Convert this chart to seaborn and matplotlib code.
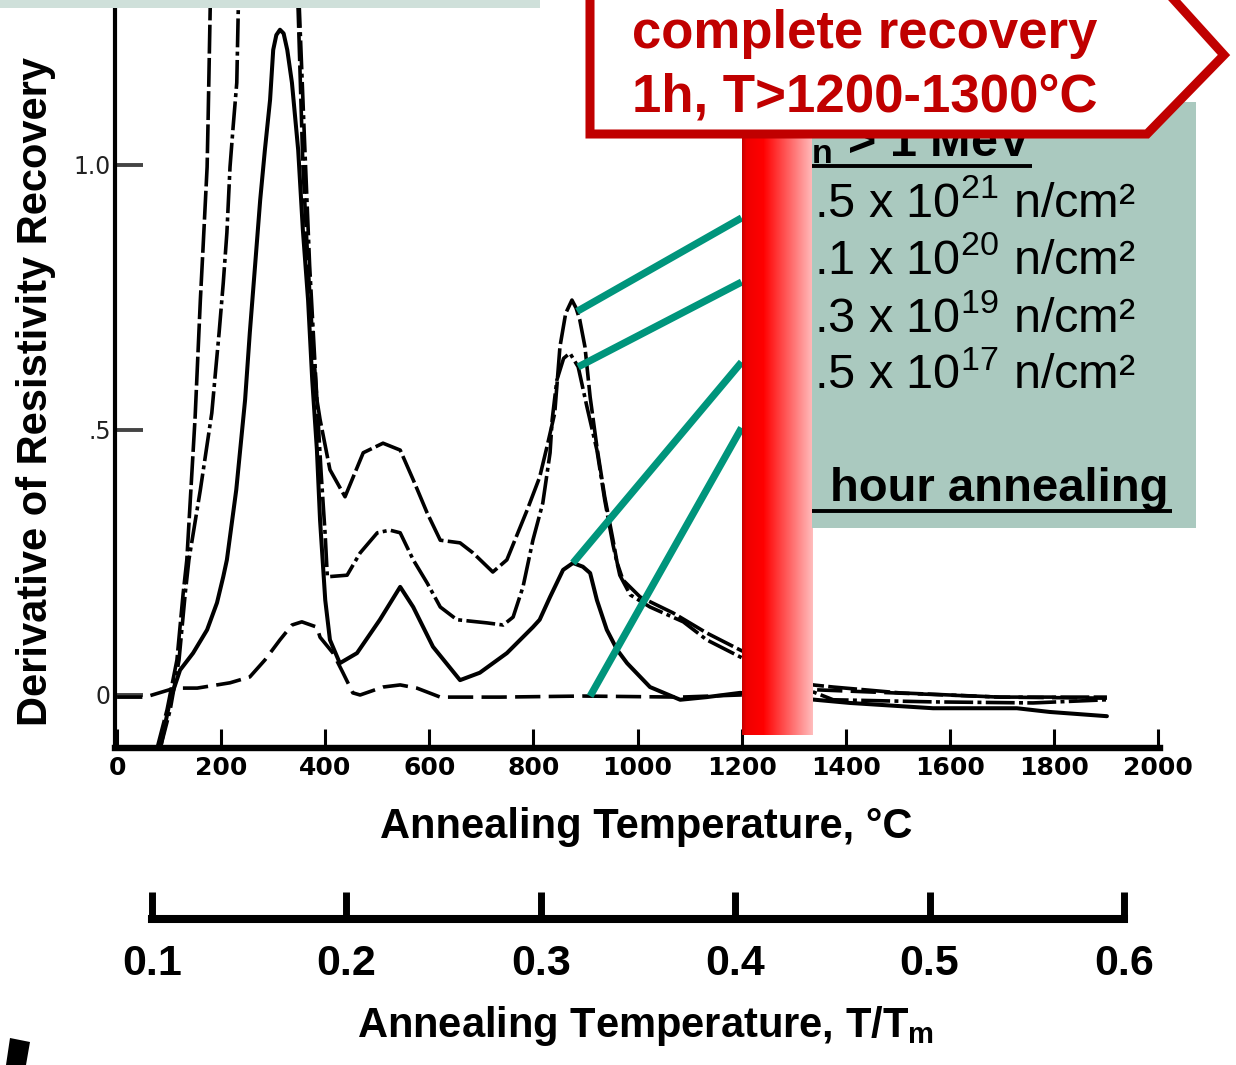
import numpy as np
import matplotlib
matplotlib.use("Agg")
import matplotlib.pyplot as plt
import seaborn as sns
from matplotlib.colors import LinearSegmentedColormap
from matplotlib.patches import Polygon, Rectangle

# ---- data (T in degC, d(recovery)/dT) ----
temp_a = [77, 96, 115, 127, 134, 150, 160, 165, 173, 175, 179, 195, 240, 300, 335,
          348, 357, 367, 375, 384, 390, 409, 438, 473, 511, 544, 569, 596, 621, 659,
          684, 722, 749, 788, 812, 826, 841, 851, 862, 874, 882, 889, 899, 909, 922,
          937, 953, 961, 972, 1005, 1068, 1133, 1197, 1337, 1376, 1504, 1696, 1902]
rec_a = [-0.10, -0.028, 0.066, 0.192, 0.255, 0.525, 0.745, 0.84, 0.996, 1.09, 1.30, 1.6, 1.9, 1.9, 1.6,
         1.29, 1.0, 0.81, 0.683, 0.557, 0.52, 0.425, 0.374, 0.457, 0.475, 0.462, 0.406, 0.343, 0.292, 0.287,
         0.268, 0.232, 0.255, 0.349, 0.411, 0.468, 0.532, 0.657, 0.72, 0.745, 0.73, 0.708, 0.657, 0.562, 0.468,
         0.374, 0.292, 0.249, 0.217, 0.185, 0.155, 0.117, 0.085, 0.019, 0.015, 0.004, -0.004, -0.004]

temp_b = [83, 102, 119, 131, 138, 160, 182, 190, 196, 204, 211, 217, 223, 230, 233, 250, 285,
          325, 348, 360, 370, 384, 392, 400, 404, 442, 467, 500, 524, 544, 569, 596, 621, 653,
          711, 742, 761, 780, 799, 818, 832, 836, 845, 858, 870, 886, 903, 922, 937, 953, 966,
          986, 1024, 1088, 1133, 1197, 1337, 1376, 1568, 1760, 1902]
rec_b = [-0.10, -0.028, 0.066, 0.192, 0.255, 0.387, 0.532, 0.619, 0.683, 0.777, 0.872, 0.996, 1.072, 1.155, 1.30, 1.6, 1.85,
         1.8, 1.35, 1.05, 0.81, 0.557, 0.42, 0.30, 0.223, 0.226, 0.268, 0.306, 0.311, 0.306, 0.255, 0.211, 0.166, 0.142,
         0.136, 0.132, 0.147, 0.204, 0.292, 0.362, 0.457, 0.519, 0.594, 0.635, 0.645, 0.619, 0.543, 0.462, 0.368, 0.283, 0.226,
         0.189, 0.166, 0.138, 0.104, 0.072, 0.006, -0.009, -0.013, -0.015, -0.009]

temp_c = [83, 102, 121, 146, 173, 192, 204, 211, 229, 246, 255, 265, 275, 284, 294, 300, 306, 313,
          320, 327, 336, 348, 357, 367, 375, 384, 390, 400, 409, 428, 461, 505, 544, 569, 607, 659,
          697, 749, 799, 812, 832, 857, 876, 895, 909, 922, 941, 961, 980, 1024, 1082, 1133,
          1197, 1408, 1568, 1729, 1792, 1902]
rec_c = [-0.10, -0.009, 0.047, 0.079, 0.123, 0.174, 0.223, 0.255, 0.387, 0.557, 0.683, 0.808, 0.934, 1.028, 1.123, 1.217, 1.245, 1.255,
         1.248, 1.217, 1.155, 1.028, 0.877, 0.745, 0.594, 0.462, 0.33, 0.179, 0.104, 0.06, 0.079, 0.142, 0.204, 0.166, 0.091, 0.028,
         0.042, 0.079, 0.128, 0.142, 0.185, 0.236, 0.249, 0.242, 0.23, 0.179, 0.123, 0.085, 0.06, 0.015, -0.009, -0.004,
         0.004, -0.015, -0.025, -0.025, -0.032, -0.04]

temp_d = [0, 54, 111, 154, 217, 255, 284, 313, 336, 355, 384, 390, 415, 434, 453, 467, 511,
          544, 576, 621, 736, 895, 1082, 1197, 1337, 1696, 1902]
rec_d = [-0.004, -0.004, 0.013, 0.013, 0.023, 0.034, 0.066, 0.104, 0.132, 0.138, 0.128, 0.109, 0.079, 0.042, 0.004, 0.0, 0.015,
         0.019, 0.013, -0.004, -0.004, -0.002, -0.004, 0.0, 0.01, -0.004, -0.006]

fluence_labels = [".5 x 10$^{21}$ n/cm²", ".1 x 10$^{20}$ n/cm²",
                  ".3 x 10$^{19}$ n/cm²", ".5 x 10$^{17}$ n/cm²"]
link_temps = [884, 886, 876, 909]          # where each leader line touches its curve
link_start = [0.90, 0.779, 0.628, 0.504]   # leader height at the red bar
recovery_range = [1200, 1335]

x_ticks = [0, 200, 400, 600, 800, 1000, 1200, 1400, 1600, 1800, 2000]
y_ticks = [0, 0.5, 1.0]
y_ticklabels = ["0", ".5", "1.0"]
tm_ticks = [0.1, 0.2, 0.3, 0.4, 0.5, 0.6]

# ---- figure ----
sns.set_style("white")
plt.rcParams["font.family"] = ["Liberation Sans", "DejaVu Sans"]
plt.rcParams["mathtext.default"] = "regular"
plt.rcParams["text.color"] = "black"
plt.rcParams["axes.labelcolor"] = "black"
plt.rcParams["xtick.color"] = "black"
plt.rcParams["ytick.color"] = "black"

W, H = 1236, 1065
fig = plt.figure(figsize=(W / 100, H / 100), dpi=100)
fig.patch.set_facecolor("white")


def fx(px):
    return px / W


def fy(py):
    return 1 - py / H


ax = fig.add_axes([fx(115), fy(748), (1160 - 115) / W, (748 - 8) / H])

curves = [(temp_a, rec_a, (0, (8, 1.2)), 2.6),
          (temp_b, rec_b, (0, (8, 1.2, 1.1, 1.2)), 2.6),
          (temp_c, rec_c, "-", 2.9),
          (temp_d, rec_d, (0, (7, 2.3)), 2.6)]
for temps, recs, style, lw in curves:
    sns.lineplot(x=temps, y=recs, ax=ax, color="black", lw=lw, linestyle=style,
                 sort=False, estimator=None)

# leader lines from the red bar to each curve
for t_end, v_start, (temps, recs, _, _) in zip(link_temps, link_start, curves):
    v_end = np.interp(t_end, temps, recs)
    ax.plot([recovery_range[0], t_end], [v_start, v_end], color="#00957c", lw=5.2,
            solid_capstyle="butt", zorder=3)

# gradient red bar marking the complete-recovery range
bar_cmap = LinearSegmentedColormap.from_list(
    "bar", [(0, "#c40000"), (0.06, "#ee0000"), (0.3, "#ff0000"), (1, "#ffbdbd")])
grad = np.linspace(0, 1, 256).reshape(1, -1)
ax.imshow(grad, cmap=bar_cmap, extent=[recovery_range[0], recovery_range[1], -0.075, 1.4],
          aspect="auto", zorder=4, interpolation="bilinear")

ax.set_xlim(-4, 2004)
ax.set_ylim(-0.1, 1.296)
ax.set_xticks(x_ticks)
ax.set_xticklabels([str(t) for t in x_ticks])
ax.set_yticks(y_ticks)
ax.set_yticklabels(y_ticklabels)
ax.tick_params(axis="x", bottom=True, direction="in", length=14, width=2.2, pad=6,
               labelsize=18, color="black")
ax.tick_params(axis="y", left=True, direction="in", length=20, width=2.8, pad=3, labelsize=17,
               color="#444444", labelcolor="#222222")
for lab in ax.get_xticklabels():
    lab.set_fontfamily("DejaVu Sans")
    lab.set_fontweight("bold")
for lab in ax.get_yticklabels():
    lab.set_fontfamily("DejaVu Sans")

sns.despine(ax=ax)
ax.spines["left"].set_linewidth(3)
ax.spines["bottom"].set_linewidth(4.6)
ax.spines["left"].set_color("black")
ax.spines["bottom"].set_color("black")

ax.set_xlabel("Annealing Temperature, °C", fontsize=30, fontweight="bold", va="baseline")
ax.xaxis.set_label_coords((646 - 115) / 1045, (748 - 838) / 740)
ax.set_ylabel("Derivative of Resistivity Recovery", fontsize=30, fontweight="bold", va="baseline")
ax.yaxis.set_label_coords((47 - 115) / 1045, (748 - 392) / 740)

# ---- homologous temperature scale ----
ax2 = fig.add_axes([fx(152), fy(919), (1124 - 152) / W, 40 / H], zorder=1)
ax2.patch.set_alpha(0)
ax2.set_xlim(0.1, 0.6)
ax2.set_yticks([])
for side in ["top", "left", "right"]:
    ax2.spines[side].set_visible(False)
ax2.spines["bottom"].set_linewidth(5.8)
ax2.spines["bottom"].set_color("black")
ax2.set_xticks(tm_ticks)
ax2.set_xticklabels([f"{t:.1f}" for t in tm_ticks])
ax2.tick_params(axis="x", bottom=True, direction="in", length=19.5, width=5, pad=18,
                labelsize=31, color="black")
for lab in ax2.get_xticklabels():
    lab.set_fontweight("bold")
ax2.set_xlabel("Annealing Temperature, T/T$_m$", fontsize=30, fontweight="bold", va="baseline")
ax2.xaxis.set_label_coords((645 - 152) / 972, (919 - 1037) / 40)

# ---- overlay in pixel coordinates for the slide annotations ----
ov = fig.add_axes([0, 0, 1, 1], zorder=10)
ov.set_xlim(0, W)
ov.set_ylim(H, 0)
ov.axis("off")

ov.add_patch(Rectangle((0, 0), 540, 8, fc="#cfe0da", ec="none", zorder=1))

box = Rectangle((812, 102), 384, 426, fc="#aac9bf", ec="none", zorder=1)
ov.add_patch(box)

texts = []
texts.append(ov.text(1032, 156, r"E$_n$ > 1 MeV", fontsize=35, fontweight="bold",
                     ha="right", va="baseline", zorder=2))
for i, lab in enumerate(fluence_labels):
    texts.append(ov.text(814, 217 + 57.3 * i, lab, fontsize=35, ha="left", va="baseline", zorder=2))
texts.append(ov.text(830, 501, "hour annealing", fontsize=34, fontweight="bold",
                     ha="left", va="baseline", zorder=2))
for t in texts:
    t.set_clip_on(True)
    t.set_clip_path(box)
ov.plot([812, 1032], [166, 166], color="black", lw=2.8, zorder=2, solid_capstyle="butt")
ov.plot([812, 1172], [511, 511], color="black", lw=2.8, zorder=2, solid_capstyle="butt")

# callout arrow
callout = Polygon([(590, -30), (1147, -30), (1224, 55), (1147, 134), (590, 134)], closed=True,
                  fc="white", ec="#c00000", lw=6.5, joinstyle="miter", zorder=5)
ov.add_patch(callout)
ov.text(632, 48, "complete recovery", color="#c00000", fontsize=38, fontweight="bold",
        ha="left", va="baseline", zorder=6)
ov.text(632, 111, "1h, T>1200-1300°C", color="#c00000", fontsize=38, fontweight="bold",
        ha="left", va="baseline", zorder=6)

# stray mark in the lower-left corner of the slide
ov.add_patch(Polygon([(10, 1038), (30, 1042), (26, 1065), (6, 1065)], closed=True,
                     fc="black", ec="none", zorder=1))

fig.savefig("out.png", dpi=100)
